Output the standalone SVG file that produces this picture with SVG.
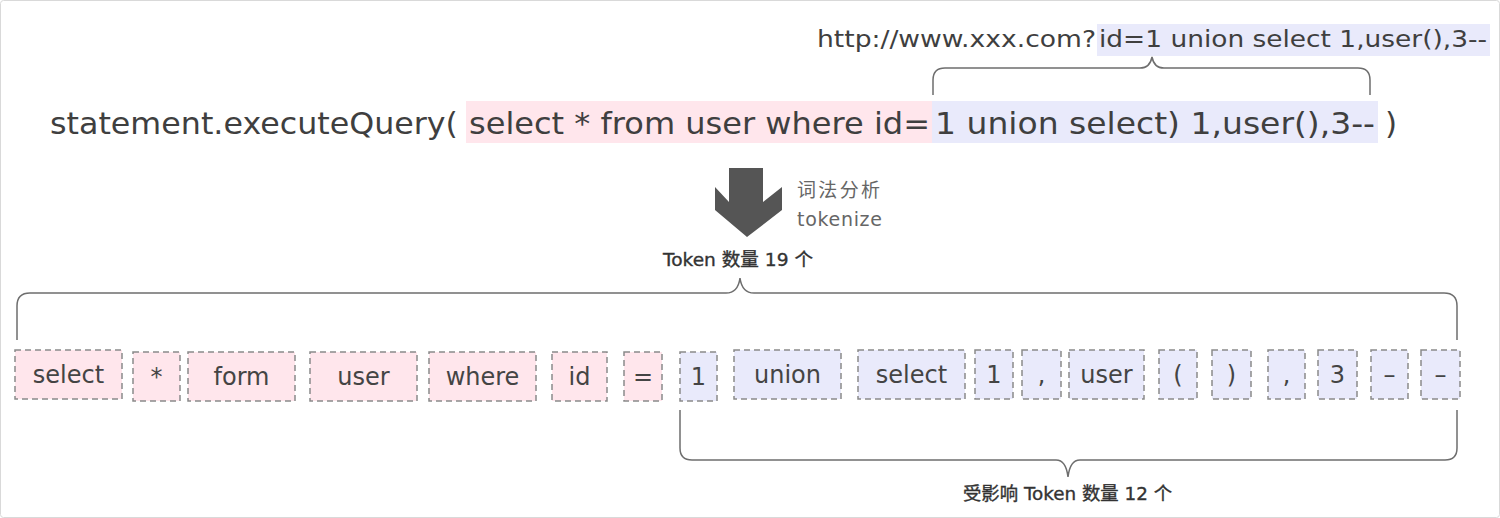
<svg xmlns="http://www.w3.org/2000/svg" width="1500" height="518" viewBox="0 0 1500 518">
<style>
.bg{fill:#ffffff;stroke:#d9d9d9;stroke-width:1}
.t{font-family:"DejaVu Sans","Noto Sans CJK SC",sans-serif;fill:#3f3f3f}
.main{font-size:31px}
.url{font-size:23px}
.tok{font-size:24px;text-anchor:middle;fill:#444}
.lbl{font-size:18px;fill:#333;stroke:#333;stroke-width:0.35}
.side{font-size:19px;fill:#666}
.pk{fill:#ffe6ec}
.bl{fill:#e9eafb}
.box-pk{fill:#ffe6ec;stroke:#8a8a8a;stroke-width:1.5;stroke-dasharray:6 4}
.box-bl{fill:#e9eafb;stroke:#8a8a8a;stroke-width:1.5;stroke-dasharray:6 4}
.brace{fill:none;stroke:#6e6e6e;stroke-width:1.5}
</style>
<rect class="bg" x="0.5" y="0.5" width="1499" height="517" rx="3"/>

<g id="url">
<rect class="bl" x="1097" y="24" width="393" height="32"/>
<text class="t url" x="817" y="47" textLength="279" lengthAdjust="spacingAndGlyphs">http://www.xxx.com?</text>
<text class="t url" x="1099" y="47" textLength="388" lengthAdjust="spacingAndGlyphs">id=1 union select 1,user(),3--</text>
</g>

<g id="statement">
<rect class="pk" x="466" y="101" width="466" height="42"/>
<rect class="bl" x="932" y="101" width="446" height="42"/>
<text class="t main" x="50" y="134" textLength="408" lengthAdjust="spacingAndGlyphs">statement.executeQuery(</text>
<text class="t main" x="469" y="134" textLength="461" lengthAdjust="spacingAndGlyphs">select * from user where id=</text>
<text class="t main" x="935" y="134" textLength="440" lengthAdjust="spacingAndGlyphs">1 union select) 1,user(),3--</text>
<text class="t main" x="1385" y="134">)</text>
</g>

<g id="tokenize-label">
<text class="t side" x="797" y="197" textLength="83">词法分析</text>
<text class="t side" x="797" y="226" textLength="85">tokenize</text>
</g>

<g id="label-19">
<text class="t lbl" x="663" y="266" textLength="150" lengthAdjust="spacingAndGlyphs">Token 数量 19 个</text>
</g>
<g id="label-12">
<text class="t lbl" x="963" y="500" textLength="209" lengthAdjust="spacingAndGlyphs">受影响 Token 数量 12 个</text>
</g>

<g id="connectors">
<path d="M729,168 L763,168 L763,202 L782,187 L782,210 L747,237 L715,210 L715,187 L729,202 Z" fill="#555555"/>
<path class="brace" d="M933,95 L933,80 Q933,68 945,68 L1140,68 Q1150,68 1152,57 Q1154,68 1164,68 L1358,68 Q1370,68 1370,80 L1370,95"/>
<path class="brace" d="M17,340 L17,306 Q17,293 30,293 L726,293 Q738,293 740,278 Q742,293 754,293 L1444,293 Q1457,293 1457,306 L1457,340"/>
<path class="brace" d="M680,410 L680,448 Q680,460 692,460 L1056,460 Q1066,460 1068,477 Q1070,460 1080,460 L1445,460 Q1457,460 1457,448 L1457,410"/>
</g>

<g id="tok1"><rect class="box-pk" x="15" y="350" width="107" height="49"/><text class="t tok" x="68.5" y="383">select</text></g>
<g id="tok2"><rect class="box-pk" x="133" y="352" width="47" height="49"/><text class="t tok" x="156.5" y="385">*</text></g>
<g id="tok3"><rect class="box-pk" x="188" y="352" width="107" height="49"/><text class="t tok" x="241.5" y="385">form</text></g>
<g id="tok4"><rect class="box-pk" x="310" y="352" width="107" height="49"/><text class="t tok" x="363.5" y="385">user</text></g>
<g id="tok5"><rect class="box-pk" x="429" y="352" width="107" height="49"/><text class="t tok" x="482.5" y="385">where</text></g>
<g id="tok6"><rect class="box-pk" x="552" y="352" width="55" height="49"/><text class="t tok" x="579.5" y="385">id</text></g>
<g id="tok7"><rect class="box-pk" x="624" y="352" width="38" height="49"/><text class="t tok" x="643" y="385">=</text></g>
<g id="tok8"><rect class="box-bl" x="680" y="352" width="37" height="49"/><text class="t tok" x="698.5" y="385">1</text></g>
<g id="tok9"><rect class="box-bl" x="734" y="350" width="107" height="49"/><text class="t tok" x="787.5" y="383">union</text></g>
<g id="tok10"><rect class="box-bl" x="858" y="350" width="107" height="49"/><text class="t tok" x="911.5" y="383">select</text></g>
<g id="tok11"><rect class="box-bl" x="975" y="350" width="38" height="49"/><text class="t tok" x="994" y="383">1</text></g>
<g id="tok12"><rect class="box-bl" x="1022" y="350" width="39" height="49"/><text class="t tok" x="1041.5" y="383">,</text></g>
<g id="tok13"><rect class="box-bl" x="1069" y="350" width="75" height="49"/><text class="t tok" x="1106.5" y="383">user</text></g>
<g id="tok14"><rect class="box-bl" x="1159" y="350" width="38" height="49"/><text class="t tok" x="1178" y="383">(</text></g>
<g id="tok15"><rect class="box-bl" x="1212" y="350" width="39" height="49"/><text class="t tok" x="1231.5" y="383">)</text></g>
<g id="tok16"><rect class="box-bl" x="1268" y="350" width="37" height="49"/><text class="t tok" x="1286.5" y="383">,</text></g>
<g id="tok17"><rect class="box-bl" x="1318" y="350" width="39" height="49"/><text class="t tok" x="1337.5" y="383">3</text></g>
<g id="tok18"><rect class="box-bl" x="1371" y="350" width="37" height="49"/><text class="t tok" x="1389.5" y="383">–</text></g>
<g id="tok19"><rect class="box-bl" x="1421" y="350" width="39" height="49"/><text class="t tok" x="1440.5" y="383">–</text></g>
</svg>
